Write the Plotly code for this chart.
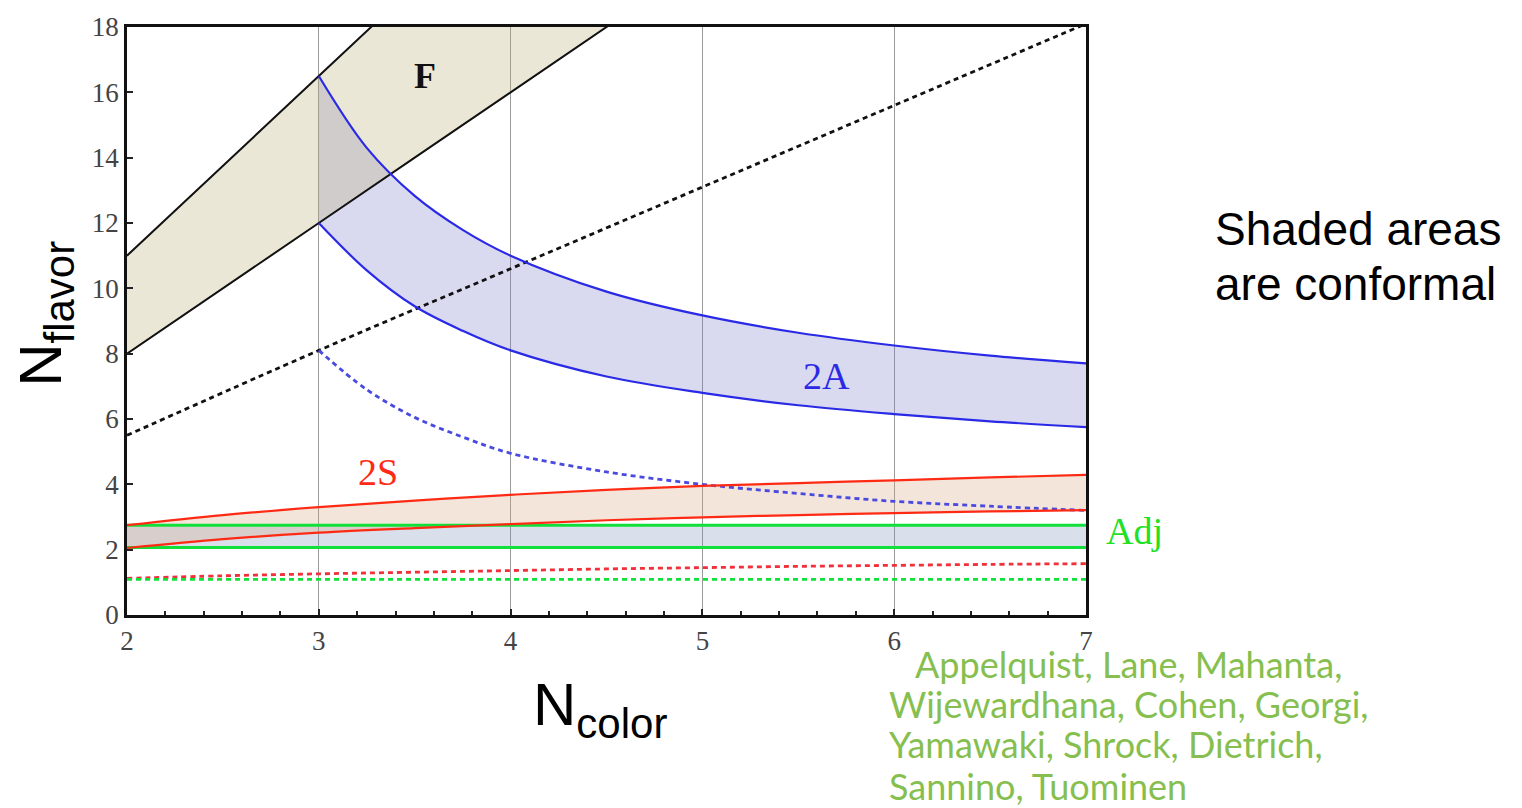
import plotly.graph_objects as go

# Number of colours (x) sample points
n_full = [2, 2.5, 3, 3.5, 4, 4.5, 5, 5.5, 6, 6.5, 7]
n_2a = [3, 3.25, 3.5, 3.75, 4, 4.5, 5, 5.5, 6, 6.5, 7]
n_f = [2, 3, 4, 5, 6, 7]
n_adj = [2, 7]

# Fundamental representation
f_upper = [11, 16.5, 22, 27.5, 33, 38.5]
f_lower = [8, 12, 16, 20, 24, 28]
f_dotted = [5.5, 8.1, 10.6, 13.1, 15.6, 18.1]

# Two-index antisymmetric
a2_upper = [16.5, 14.3, 12.83, 11.79, 11.0, 9.9, 9.17, 8.64, 8.25, 7.94, 7.7]
a2_lower = [12.0, 10.55, 9.45, 8.7, 8.1, 7.3, 6.8, 6.42, 6.15, 5.93, 5.75]
a2_dotted = [8.1, 6.9, 6.05, 5.45, 4.95, 4.38, 4.0, 3.72, 3.48, 3.33, 3.2]

# Two-index symmetric
s2_upper = [2.75, 3.06, 3.3, 3.5, 3.68, 3.83, 3.95, 4.04, 4.12, 4.21, 4.29]
s2_lower = [2.05, 2.32, 2.52, 2.66, 2.78, 2.9, 2.99, 3.06, 3.12, 3.17, 3.21]
s2_dotted = [1.12, 1.2, 1.26, 1.31, 1.36, 1.41, 1.45, 1.49, 1.52, 1.55, 1.57]

# Adjoint
adj_upper = [2.75, 2.75]
adj_lower = [2.07, 2.07]
adj_dotted = [1.09, 1.09]

x_ticks = [2, 3, 4, 5, 6, 7]
y_ticks = [0, 2, 4, 6, 8, 10, 12, 14, 16, 18]

BLACK = "#111111"
BLUE = "#2a2ae6"
RED = "#ff2a14"
GREEN = "#12e03a"

fig = go.Figure()


def band(xs, lo, hi, fillcolor):
    fig.add_trace(go.Scatter(x=xs, y=lo, mode="lines", line=dict(width=0, shape="spline"),
                             showlegend=False, hoverinfo="skip"))
    fig.add_trace(go.Scatter(x=xs, y=hi, mode="lines", line=dict(width=0, shape="spline"),
                             fill="tonexty", fillcolor=fillcolor,
                             showlegend=False, hoverinfo="skip"))


def curve(xs, ys, color, width=2.2, dash="solid"):
    fig.add_trace(go.Scatter(x=xs, y=ys, mode="lines",
                             line=dict(color=color, width=width, dash=dash, shape="spline"),
                             showlegend=False, hoverinfo="skip"))


# shaded conformal windows
band(n_adj, adj_lower, adj_upper, "rgba(130,150,190,0.30)")
band(n_full, s2_lower, s2_upper, "rgba(215,170,130,0.30)")
band(n_2a, a2_lower, a2_upper, "rgba(120,120,200,0.28)")
band(n_f, f_lower, f_upper, "rgba(190,175,120,0.30)")

# dotted lower estimates
curve(n_f, f_dotted, BLACK, 2.8, "5px,4px")
curve(n_2a, a2_dotted, "#4a4ae0", 2.8, "5px,4px")
curve(n_full, s2_dotted, "#f0303a", 2.8, "5px,4px")
curve(n_adj, adj_dotted, GREEN, 2.8, "5px,4px")

# window boundaries
curve(n_f, f_upper, BLACK, 2)
curve(n_f, f_lower, BLACK, 2)
curve(n_2a, a2_upper, BLUE, 2.2)
curve(n_2a, a2_lower, BLUE, 2.2)
curve(n_adj, adj_upper, GREEN, 3)
curve(n_adj, adj_lower, GREEN, 3)
curve(n_full, s2_upper, RED, 2.2)
curve(n_full, s2_lower, RED, 2.2)

serif = "Liberation Serif"
sans = "Liberation Sans"


def note(x, y, text, size, color, family, xref="paper", yref="paper", xanchor="center", **kw):
    return dict(x=x, y=y, xref=xref, yref=yref, text=text, showarrow=False,
                xanchor=xanchor, yanchor="middle",
                font=dict(family=family, size=size, color=color), **kw)


annotations = [
    note(3.554, 16.49, "<b>F</b>", 36, "#111111", serif, xref="x", yref="y"),
    note(5.645, 7.32, "2A", 38, BLUE, serif, xref="x", yref="y"),
    note(3.31, 4.39, "2S", 38, RED, serif, xref="x", yref="y"),
    note(1.051, 2.57, "Adj", 38, "#22e022", serif, yref="y"),
    note(-0.085, 0.513, "N<sub>flavor</sub>", 60, "#000000", sans, textangle=-90),
    note(0.493, -0.16, "N<sub>color</sub>", 60, "#000000", sans),
    note(1.1324, 0.656, "Shaded areas", 46, "#000000", sans, xanchor="left"),
    note(1.1324, 0.5636, "are conformal", 46, "#000000", sans, xanchor="left"),
]

cite_lines = ["Appelquist, Lane, Mahanta,", "Wijewardhana, Cohen, Georgi,",
              "Yamawaki, Shrock, Dietrich,", "Sannino, Tuominen"]
cite_x = [0.8196, 0.7925, 0.7925, 0.7925]
cite_y = [-0.084, -0.1513, -0.2202, -0.2908]
for txt, cx, cy in zip(cite_lines, cite_x, cite_y):
    annotations.append(note(cx, cy, txt, 36, "#86bf4f", "Lato", xanchor="left"))

fig.update_layout(
    width=1522, height=808,
    margin=dict(l=127, r=436, t=20, b=193),
    paper_bgcolor="white", plot_bgcolor="white",
    showlegend=False,
    font=dict(family=serif, size=27, color="#444"),
    annotations=annotations,
    xaxis=dict(range=[2, 7], tickvals=x_ticks, ticks="inside", ticklen=6, tickwidth=2,
               tickcolor="#222", showgrid=True, gridcolor="#9a9a9a", gridwidth=1,
               showline=True, linecolor="#111", linewidth=2.5, mirror=True, zeroline=False,
               minor=dict(dtick=0.2, ticks="inside", ticklen=4, tickwidth=2, tickcolor="#222",
                          showgrid=False),
               tickfont=dict(family=serif, size=27, color="#444")),
    yaxis=dict(range=[0, 18], tickvals=y_ticks, ticks="inside", ticklen=6, tickwidth=2,
               tickcolor="#222", showgrid=False,
               showline=True, linecolor="#111", linewidth=2.5, mirror=True, zeroline=False,
               tickfont=dict(family=serif, size=27, color="#444")),
)

fig.write_html("out.html")
